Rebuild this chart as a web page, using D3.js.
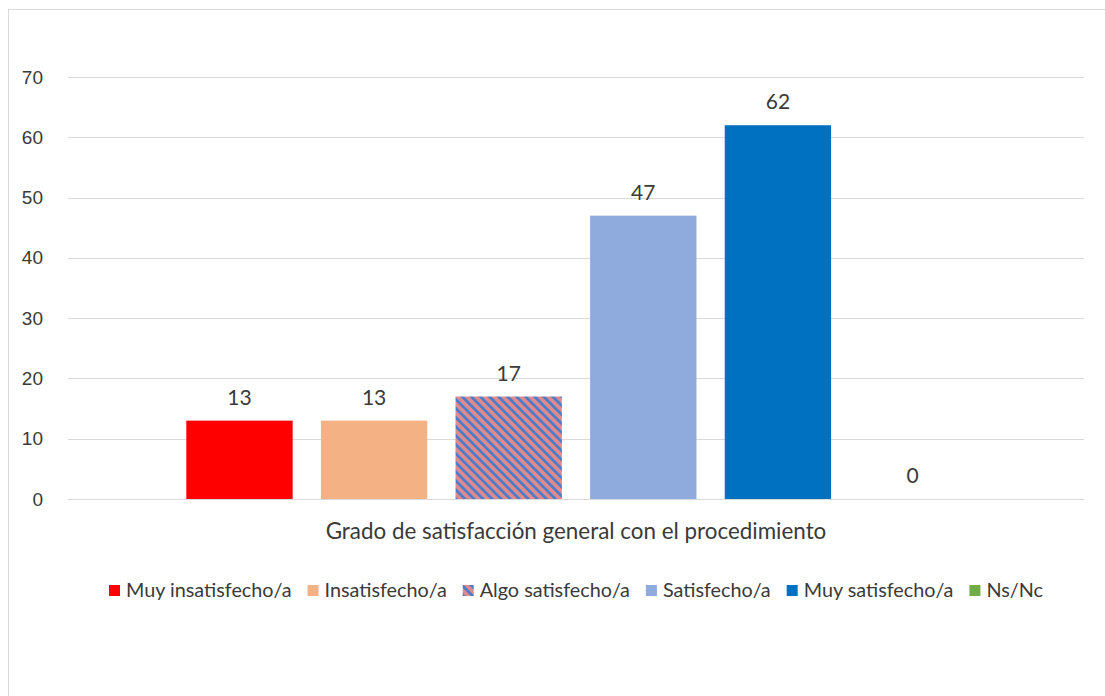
<!DOCTYPE html>
<html>
<head>
<meta charset="utf-8">
<script src="https://cdn.jsdelivr.net/npm/d3@7"></script>
<style>
  body { margin: 0; background: #fff; }
  svg { display: block; }
</style>
</head>
<body>
<svg id="chart" width="1105" height="696"></svg>
<script>
const categories = ['Grado de satisfacción general con el procedimiento'];
const seriesNames = ['Muy insatisfecho/a', 'Insatisfecho/a', 'Algo satisfecho/a', 'Satisfecho/a', 'Muy satisfecho/a', 'Ns/Nc'];
const seriesValues = [13, 13, 17, 47, 62, 0];
const yTicks = [0, 10, 20, 30, 40, 50, 60, 70];
const seriesColors = ['#ff0000', '#f4b183', 'url(#stripes)', '#8faadc', '#0070c0', '#70ad47'];

const labelFont = 'Lato, "Noto Sans", sans-serif';
const tickFont = '"Liberation Sans", Arial, sans-serif';
const textColor = '#3a3a3a';

let svg = d3.select('#chart');

// stripe fill for "Algo satisfecho/a"
let defs = svg.append('defs');
let pat = defs.append('pattern')
  .attr('id', 'stripes')
  .attr('patternUnits', 'userSpaceOnUse')
  .attr('width', 6.4)
  .attr('height', 6.4)
  .attr('patternTransform', 'rotate(-45)');
pat.append('rect').attr('width', 6.4).attr('height', 6.4).attr('fill', '#e08a8c');
pat.append('rect').attr('width', 2.8).attr('height', 6.4).attr('fill', '#4d7cc8');

// outer frame
svg.append('rect')
  .attr('x', 8.5).attr('y', 9.5)
  .attr('width', 1110).attr('height', 700)
  .attr('fill', 'none')
  .attr('stroke', '#d9d9d9');

const plotLeft = 68, plotRight = 1084, plotTop = 77, plotBottom = 499;

let y = d3.scaleLinear().domain([0, 70]).range([plotBottom, plotTop]);

let x0 = d3.scaleBand()
  .domain(categories)
  .range([plotLeft, plotRight])
  .paddingInner(0)
  .paddingOuter(0.129);

let x1 = d3.scaleBand()
  .domain(seriesNames)
  .range([0, x0.bandwidth()])
  .paddingInner(0.21)
  .paddingOuter(0.105);

// gridlines
svg.append('g')
  .selectAll('line')
  .data(yTicks)
  .join('line')
  .attr('x1', plotLeft).attr('x2', plotRight)
  .attr('y1', d => Math.round(y(d)) + 0.5)
  .attr('y2', d => Math.round(y(d)) + 0.5)
  .attr('stroke', '#d9d9d9')
  .attr('stroke-width', 1);

// y axis labels
let yAxis = svg.append('g')
  .attr('transform', 'translate(' + (plotLeft - 25) + ',0)')
  .call(d3.axisLeft(y).tickValues(yTicks).tickSize(0).tickPadding(0));
yAxis.select('.domain').remove();
yAxis.selectAll('text')
  .attr('font-family', tickFont)
  .attr('font-size', 19)
  .attr('fill', textColor);

// bars
let group = svg.append('g')
  .selectAll('g')
  .data(categories)
  .join('g')
  .attr('transform', d => 'translate(' + x0(d) + ',0)');

group.selectAll('rect')
  .data(seriesNames.map((s, i) => ({ name: s, value: seriesValues[i], color: seriesColors[i] })))
  .join('rect')
  .attr('x', d => x1(d.name))
  .attr('y', d => y(d.value))
  .attr('width', x1.bandwidth())
  .attr('height', d => plotBottom - y(d.value))
  .attr('fill', d => d.color);

// value labels
group.selectAll('text.val')
  .data(seriesNames.map((s, i) => ({ name: s, value: seriesValues[i] })))
  .join('text')
  .attr('class', 'val')
  .attr('x', d => x1(d.name) + x1.bandwidth() / 2)
  .attr('y', d => y(d.value) - 16)
  .attr('text-anchor', 'middle')
  .attr('font-family', labelFont)
  .attr('font-size', 21)
  .attr('fill', textColor)
  .text(d => d.value);

// category label
svg.append('text')
  .attr('x', x0(categories[0]) + x0.bandwidth() / 2)
  .attr('y', 539)
  .attr('text-anchor', 'middle')
  .attr('font-family', labelFont)
  .attr('font-size', 22.4)
  .attr('fill', textColor)
  .text(categories[0]);

// legend
let legend = svg.append('g');
let items = legend.selectAll('g')
  .data(seriesNames)
  .join('g');
items.append('rect')
  .attr('width', 11).attr('height', 11)
  .attr('y', -12)
  .attr('fill', (d, i) => seriesColors[i]);
items.append('text')
  .attr('x', 17)
  .attr('font-family', labelFont)
  .attr('font-size', 19.8)
  .attr('fill', textColor)
  .text(d => d);

let cursor = 0;
items.each(function() {
  let w = d3.select(this).select('text').node().getComputedTextLength();
  d3.select(this).attr('transform', 'translate(' + cursor + ',0)');
  cursor += 17 + w + 16;
});
cursor -= 16;
legend.attr('transform', 'translate(' + ((plotLeft + plotRight) / 2 - cursor / 2) + ',597)');
</script>
</body>
</html>
